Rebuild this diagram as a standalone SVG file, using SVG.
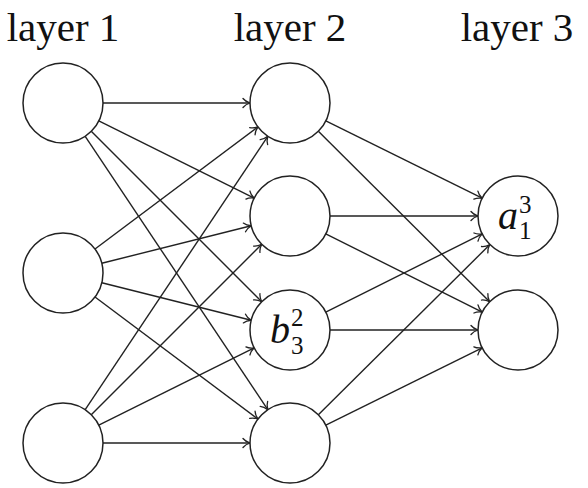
<svg xmlns="http://www.w3.org/2000/svg" width="588" height="488" viewBox="0 0 588 488">
<style>
.node{fill:#fff;stroke:#222;stroke-width:1.5}
.edge{stroke:#222;stroke-width:1.4;fill:none;marker-end:url(#arr)}
</style>
<defs>
<marker id="arr" markerUnits="userSpaceOnUse" viewBox="-10 -6 12 12" refX="0" refY="0" markerWidth="12" markerHeight="12" orient="auto">
<path d="M-7,-4.5 C-5,-2 -1.5,-0.5 0,0 C-1.5,0.5 -5,2 -7,4.5" fill="none" stroke="#222" stroke-width="1.3" stroke-linecap="round"/>
</marker>
</defs>
<g id="titles" font-family="Liberation Serif, serif" font-size="41" fill="#111" text-anchor="middle">
<text x="63" y="41">layer 1</text>
<text x="290" y="41">layer 2</text>
<text x="517" y="41">layer 3</text>
</g>
<g id="connectors">
<line class="edge" x1="103" y1="103" x2="250" y2="103"/>
<line class="edge" x1="98.81" y1="120.83" x2="254.19" y2="198.17"/>
<line class="edge" x1="91.28" y1="131.28" x2="261.72" y2="301.72"/>
<line class="edge" x1="85.21" y1="136.27" x2="267.79" y2="409.73"/>
<line class="edge" x1="95.02" y1="249.02" x2="257.98" y2="126.98"/>
<line class="edge" x1="101.8" y1="263.26" x2="251.2" y2="225.74"/>
<line class="edge" x1="101.8" y1="282.74" x2="251.2" y2="320.26"/>
<line class="edge" x1="95.02" y1="296.98" x2="257.98" y2="419.02"/>
<line class="edge" x1="85.21" y1="409.73" x2="267.79" y2="136.27"/>
<line class="edge" x1="91.28" y1="414.72" x2="261.72" y2="244.28"/>
<line class="edge" x1="98.81" y1="425.17" x2="254.19" y2="347.83"/>
<line class="edge" x1="103" y1="443" x2="250" y2="443"/>
<line class="edge" x1="325.84" y1="120.76" x2="482.16" y2="198.24"/>
<line class="edge" x1="318.35" y1="131.22" x2="489.65" y2="301.78"/>
<line class="edge" x1="330" y1="216" x2="478" y2="216"/>
<line class="edge" x1="325.78" y1="233.89" x2="482.22" y2="312.11"/>
<line class="edge" x1="325.78" y1="312.11" x2="482.22" y2="233.89"/>
<line class="edge" x1="330" y1="330" x2="478" y2="330"/>
<line class="edge" x1="318.35" y1="414.78" x2="489.65" y2="244.78"/>
<line class="edge" x1="325.84" y1="425.24" x2="482.16" y2="347.76"/>
</g>
<g id="n1_1"><circle class="node" cx="63" cy="103" r="40"/></g>
<g id="n1_2"><circle class="node" cx="63" cy="273" r="40"/></g>
<g id="n1_3"><circle class="node" cx="63" cy="443" r="40"/></g>
<g id="n2_1"><circle class="node" cx="290" cy="103" r="40"/></g>
<g id="n2_2"><circle class="node" cx="290" cy="216" r="40"/></g>
<g id="n2_3" font-family="Liberation Serif, serif" fill="#111"><circle class="node" cx="290" cy="330" r="40"/>
<text x="270" y="343" font-style="italic" font-size="40">b</text><text x="291" y="326" font-size="25">2</text><text x="291" y="354" font-size="25">3</text></g>
<g id="n2_4"><circle class="node" cx="290" cy="443" r="40"/></g>
<g id="n3_1" font-family="Liberation Serif, serif" fill="#111"><circle class="node" cx="518" cy="216" r="40"/>
<text x="498" y="229" font-style="italic" font-size="40">a</text><text x="519" y="213" font-size="25">3</text><text x="519" y="239" font-size="25">1</text></g>
<g id="n3_2"><circle class="node" cx="518" cy="330" r="40"/></g>
</svg>
